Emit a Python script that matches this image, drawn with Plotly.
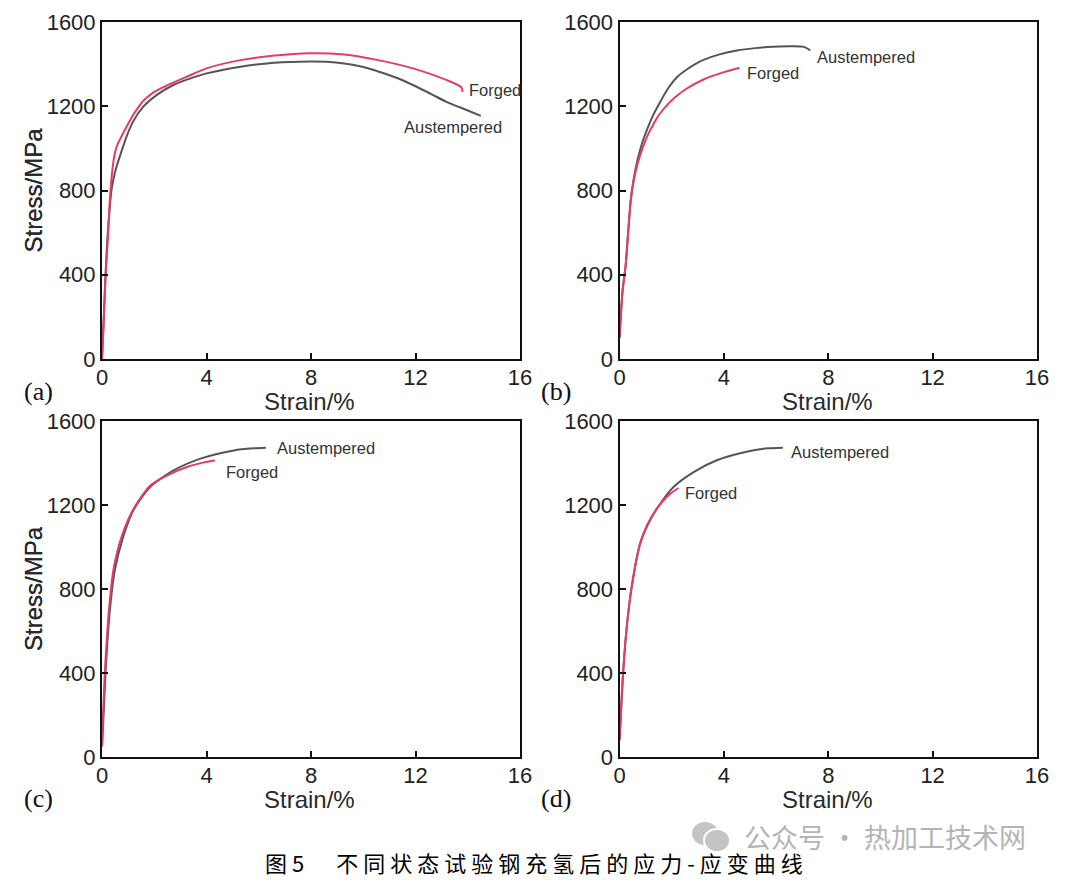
import plotly.graph_objects as go

# ---------------- data ----------------
x_ticks = [0, 4, 8, 12, 16]
y_ticks = [0, 400, 800, 1200, 1600]

# (a)
a_forged_x = [0, 0.06, 0.14, 0.22, 0.3, 0.4, 0.49, 0.6, 0.94, 1.2, 1.45, 1.55, 1.96, 2.47, 3.24, 4.0, 5.3, 6.6, 7.95, 9.27, 10.58, 11.9, 13.2, 13.76, 13.8]
a_forged_y = [0, 160, 400, 560, 755, 900, 976, 1020, 1103, 1160, 1205, 1222, 1265, 1298, 1340, 1380, 1419, 1441, 1452, 1446, 1419, 1380, 1324, 1290, 1268]
a_aust_x = [0, 0.05, 0.12, 0.2, 0.3, 0.36, 0.45, 0.55, 0.68, 0.94, 1.19, 1.58, 2.09, 2.73, 3.5, 4.0, 5.3, 6.6, 7.95, 8.6, 9.27, 10.0, 10.6, 11.3, 11.9, 12.6, 13.2, 14.0, 14.5]
a_aust_y = [0, 140, 360, 560, 723, 800, 860, 910, 961, 1056, 1127, 1198, 1253, 1301, 1337, 1356, 1388, 1407, 1413, 1411, 1403, 1386, 1364, 1334, 1301, 1258, 1220, 1180, 1154]

# (b)
b_aust_x = [0, 0.05, 0.12, 0.23, 0.33, 0.43, 0.55, 0.69, 0.88, 1.09, 1.3, 1.49, 1.89, 2.2, 2.55, 2.9, 3.22, 3.8, 4.54, 5.2, 5.87, 6.6, 7.07, 7.31]
b_aust_y = [100, 200, 330, 438, 600, 755, 860, 945, 1030, 1100, 1160, 1205, 1290, 1338, 1372, 1400, 1420, 1445, 1466, 1476, 1483, 1485, 1482, 1465]
b_forged_x = [0, 0.05, 0.12, 0.23, 0.33, 0.43, 0.55, 0.69, 0.88, 1.09, 1.3, 1.49, 1.89, 2.2, 2.55, 3.22, 4.0, 4.6]
b_forged_y = [100, 200, 325, 435, 595, 750, 850, 925, 1000, 1065, 1115, 1155, 1215, 1250, 1282, 1327, 1362, 1383]

# (c)
c_aust_x = [0, 0.04, 0.14, 0.3, 0.49, 0.81, 1.2, 1.84, 2.74, 3.77, 5.05, 5.8, 6.27]
c_aust_y = [50, 143, 413, 698, 889, 1048, 1175, 1286, 1365, 1421, 1460, 1470, 1473]
c_forged_x = [0, 0.04, 0.12, 0.28, 0.45, 0.78, 1.2, 1.84, 2.48, 3.25, 3.9, 4.2, 4.32]
c_forged_y = [50, 200, 430, 720, 900, 1060, 1180, 1292, 1340, 1381, 1403, 1410, 1412]

# (d)
d_aust_x = [0, 0.03, 0.13, 0.28, 0.47, 0.79, 1.17, 1.56, 2.07, 2.84, 3.73, 5.0, 5.7, 6.26]
d_aust_y = [80, 143, 381, 619, 810, 1016, 1127, 1206, 1286, 1357, 1413, 1457, 1470, 1473]
d_forged_x = [0, 0.03, 0.13, 0.28, 0.47, 0.79, 1.05, 1.43, 1.81, 2.1, 2.26]
d_forged_y = [80, 150, 390, 625, 815, 1016, 1103, 1183, 1238, 1268, 1281]

panel_labels = ["(a)", "(b)", "(c)", "(d)"]
x_title = "Strain/%"
y_title = "Stress/MPa"
caption = "图5　不同状态试验钢充氢后的应力-应变曲线"
watermark = "公众号 · 热加工技术网"

# ---------------- styling ----------------
W, H = 1074, 882
RED = "#e63c64"
GRAY = "#555555"
SANS = "Liberation Sans, Arial, sans-serif"
SERIF = "Liberation Serif, Times New Roman, serif"


def px(xp):
    return xp / W


def py(yp):
    return 1 - yp / H


# panel pixel boxes on the page: (left, right, top, bottom)
boxes = [(102, 520, 22, 359), (619.5, 1037, 22, 359),
         (102, 520, 421, 757), (619.5, 1037, 421, 757)]

fig = go.Figure()

series = [
    (a_aust_x, a_aust_y, a_forged_x, a_forged_y),
    (b_aust_x, b_aust_y, b_forged_x, b_forged_y),
    (c_aust_x, c_aust_y, c_forged_x, c_forged_y),
    (d_aust_x, d_aust_y, d_forged_x, d_forged_y),
]

for i, (ax, ay, fx, fy) in enumerate(series):
    xr = "x" if i == 0 else f"x{i+1}"
    yr = "y" if i == 0 else f"y{i+1}"
    fig.add_trace(go.Scatter(x=ax, y=ay, mode="lines", xaxis=xr, yaxis=yr,
                             line=dict(color=GRAY, width=2, shape="spline", smoothing=0.7),
                             name="Austempered", showlegend=False, hoverinfo="skip"))
    fig.add_trace(go.Scatter(x=fx, y=fy, mode="lines", xaxis=xr, yaxis=yr,
                             line=dict(color=RED, width=2, shape="spline", smoothing=0.7),
                             name="Forged", showlegend=False, hoverinfo="skip"))

common = dict(ticks="inside", ticklen=6, tickwidth=1.5, tickcolor="#111",
              showline=True, linecolor="#111", linewidth=2, mirror=True,
              showgrid=False, zeroline=False, automargin=False,
              tickfont=dict(family=SANS, size=22, color="#222"))

layout = dict(width=W, height=H,
              margin=dict(l=0, r=0, t=0, b=0, pad=0, autoexpand=False),
              paper_bgcolor="white", plot_bgcolor="white", showlegend=False)

for i, (l, r, t, b) in enumerate(boxes):
    xk = "xaxis" if i == 0 else f"xaxis{i+1}"
    yk = "yaxis" if i == 0 else f"yaxis{i+1}"
    xr = "x" if i == 0 else f"x{i+1}"
    yr = "y" if i == 0 else f"y{i+1}"
    layout[xk] = dict(domain=[px(l), px(r)], range=[0, 16], tickvals=x_ticks,
                      anchor=yr, ticklabelstandoff=-2, **common)
    layout[yk] = dict(domain=[py(b), py(t)], range=[0, 1600], tickvals=y_ticks,
                      anchor=xr, ticklabelstandoff=0, **common)

fig.update_layout(**layout)

ann = []
# curve labels
lab_font = dict(family=SANS, size=16.5, color="#333")
curve_labels = [
    ("x", "y", 13.98, 1275, "Forged", "left"),
    ("x", "y", 13.42, 1103, "Austempered", "center"),
    ("x2", "y2", 7.5, 1433, "Austempered", "left"),
    ("x2", "y2", 4.8, 1356, "Forged", "left"),
    ("x3", "y3", 6.64, 1471, "Austempered", "left"),
    ("x3", "y3", 4.67, 1357, "Forged", "left"),
    ("x4", "y4", 6.5, 1452, "Austempered", "left"),
    ("x4", "y4", 2.44, 1257, "Forged", "left"),
]
for xr, yr, xv, yv, txt, xa in curve_labels:
    ann.append(dict(xref=xr, yref=yr, x=xv, y=yv, text=txt, showarrow=False,
                    xanchor=xa, yanchor="middle", font=lab_font))

# axis titles and panel letters
for i, (l, r, t, b) in enumerate(boxes):
    ann.append(dict(xref="paper", yref="paper", x=px(33), y=py((t + b) / 2),
                    text=y_title, textangle=-90, showarrow=False,
                    xanchor="center", yanchor="middle",
                    font=dict(family=SANS, size=24, color="#2a2a2a")))
    ty = 401 if i < 2 else 799
    ann.append(dict(xref="paper", yref="paper", x=px((l + r) / 2 - 1), y=py(ty),
                    text=x_title, showarrow=False, xanchor="center",
                    yanchor="middle",
                    font=dict(family=SANS, size=24, color="#2a2a2a")))
    ly = 391 if i < 2 else 798
    ann.append(dict(xref="paper", yref="paper", x=px(l - 64), y=py(ly),
                    text=panel_labels[i], showarrow=False, xanchor="center",
                    yanchor="middle",
                    font=dict(family=SERIF, size=26, color="#111")))

# caption
ann.append(dict(xref="paper", yref="paper", x=px(536), y=py(862),
                text='<span style="letter-spacing:5px">' + caption + '</span>',
                showarrow=False, xanchor="center", yanchor="middle",
                font=dict(family="Noto Sans CJK SC", size=22, color="#000")))
# watermark
ann.append(dict(xref="paper", yref="paper", x=px(742), y=py(836),
                text=watermark, showarrow=False, xanchor="left",
                yanchor="middle",
                font=dict(family="Noto Sans CJK SC", size=27, color="#b4b4b4")))

fig.update_layout(annotations=ann)

# watermark icon (decorative)
shapes = [
    dict(type="circle", xref="paper", yref="paper", x0=px(692), x1=px(718),
         y0=py(845), y1=py(822), fillcolor="#c4c4c4", line=dict(color="white", width=0)),
    dict(type="circle", xref="paper", yref="paper", x0=px(704), x1=px(730),
         y0=py(852), y1=py(829), fillcolor="#c4c4c4", line=dict(color="white", width=2)),
]
fig.update_layout(shapes=shapes)

fig.write_html(
    "out.html",
    config={"displayModeBar": False},
    post_script="document.body.style.margin='0';document.body.style.overflow='hidden';",
)
